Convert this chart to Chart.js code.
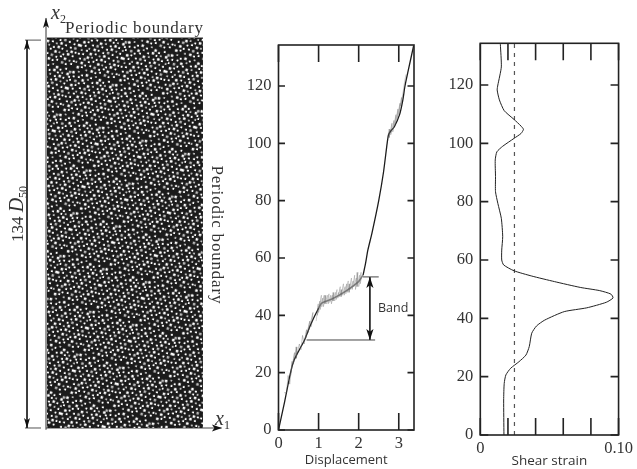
<!DOCTYPE html>
<html>
<head>
<meta charset="utf-8">
<style>
  body { margin: 0; background: #fff; }
  #page { position: relative; width: 637px; height: 469px; overflow: hidden; }
  canvas { position: absolute; left: 0; top: 0; }
  .lbl { position: absolute; white-space: nowrap; color: #333; font-family: "Liberation Serif", serif; font-size: 17px; line-height: 1; }
  .lbl i { font-size: 20px; }
  .lbl sub { font-size: 12px; line-height: 0; }
  .turn { transform-origin: center; }
</style>
<script src="https://cdn.jsdelivr.net/npm/chart.js@4"></script>
</head>
<body>
<div id="page">
  <canvas id="specimen" width="637" height="469"></canvas>
  <canvas id="dispChart" width="637" height="469"></canvas>
  <canvas id="strainChart" width="637" height="469"></canvas>
  <div class="lbl" style="left:65px;top:19px;letter-spacing:.8px">Periodic boundary</div>
  <div class="lbl turn" style="left:148px;top:226px;width:138px;letter-spacing:.8px;transform:rotate(90deg)">Periodic boundary</div>
  <div class="lbl turn" style="left:-16px;top:204px;width:64px;text-align:center;transform:rotate(-90deg)">134 <i>D</i><sub>50</sub></div>
  <div class="lbl" style="left:51px;top:2px"><i>x</i><sub>2</sub></div>
  <div class="lbl" style="left:215px;top:408px"><i>x</i><sub>1</sub></div>
  <div class="lbl" style="left:378px;top:302px;font-family:'Open Sans',sans-serif;font-size:12.5px">Band</div>
</div>
<script>
// Displacement profile (x = displacement, y = height), solid below and above the band
const lowerX = [0, 0.155, 0.3, 0.39, 0.52, 0.65, 0.78, 0.91, 1.0];
const lowerY = [0, 10, 20, 24.4, 28, 31.4, 36, 40, 42.5];
const bandX = [1.0, 1.07, 1.32, 1.65, 1.99, 2.11];
const bandY = [42.5, 44.2, 45.6, 48.2, 51.7, 54];
const upperX = [2.11, 2.17, 2.23, 2.33, 2.5, 2.62, 2.71, 2.745, 2.8, 2.89, 3.02, 3.1, 3.155, 3.23, 3.37];
const upperY = [54, 58, 62.8, 68.6, 80, 90, 100, 103, 104.3, 105.8, 110, 115, 120, 125, 134];

// Grey scatter round the profile
const fuzzLowX = [0.14, 0.2, 0.24, 0.28, 0.34, 0.3, 0.4, 0.37, 0.46, 0.44, 0.52, 0.56, 0.6, 0.64, 0.7, 0.68, 0.78, 0.74, 0.86, 0.82];
const fuzzLowY = [13, 13, 19, 16, 24, 19, 27, 23, 29, 25, 30, 28, 33, 30, 35, 32, 38, 34, 41, 36];
const fuzzBandX = [0.94, 0.99, 0.97, 1.03, 1.0, 1.07, 1.04, 1.1, 1.08, 1.14, 1.12, 1.18, 1.16, 1.22, 1.2, 1.26, 1.24, 1.3, 1.28, 1.34, 1.32, 1.38, 1.36, 1.42, 1.4, 1.46, 1.44, 1.5, 1.48, 1.54, 1.52, 1.58, 1.56, 1.62, 1.6, 1.66, 1.64, 1.7, 1.68, 1.74, 1.72, 1.78, 1.76, 1.82, 1.8, 1.86, 1.84, 1.9, 1.88, 1.94, 1.92, 1.98, 1.96, 2.02, 2.0, 2.06, 2.04, 2.08];
const fuzzBandY = [38, 44, 40, 45, 41, 47, 42, 46, 43, 47, 43, 47, 44, 47, 44, 47.5, 44, 47, 44.5, 47, 44, 48, 45, 48, 45, 49, 45.5, 48, 46, 50, 46.5, 49, 46.5, 51, 47, 50, 47, 51, 47.5, 52, 48, 51, 48, 53, 49, 52, 49, 54, 50, 53, 49, 55, 50, 54, 50, 55, 51, 54];
const fuzzHighX = [2.72, 2.78, 2.76, 2.83, 2.8, 2.88, 2.85, 2.93, 2.9, 2.98, 2.95, 3.03, 3.0, 3.07, 3.05, 3.11, 3.14, 3.18];
const fuzzHighY = [102, 105, 102, 107, 103, 108, 104, 110, 106, 112, 108, 114, 110, 116, 113, 118, 121, 124];

// Band markers
const bandTopX = [2.11, 2.5];
const bandTopY = [53.4, 53.4];
const bandBottomX = [0.7, 2.41];
const bandBottomY = [31.4, 31.4];
const bandArrowX = [2.28, 2.28];
const bandArrowY = [53.4, 31.4];

// Shear strain profile
const strainX = [0.0171, 0.0169, 0.0173, 0.0185, 0.022, 0.0279, 0.033, 0.0354, 0.0372, 0.0407, 0.0466, 0.0607, 0.077, 0.0911, 0.096, 0.0945, 0.0864, 0.0723, 0.0536, 0.0372, 0.0244, 0.0169, 0.0155, 0.0155, 0.0162, 0.0152, 0.0127, 0.011, 0.011, 0.0108, 0.012, 0.0162, 0.0244, 0.0295, 0.0312, 0.0295, 0.0244, 0.0173, 0.0138, 0.0122, 0.0127, 0.0152, 0.0145];
const strainY = [0, 12, 17.7, 20.6, 22.9, 25.1, 27.4, 30.3, 34.9, 37.4, 39.4, 42.3, 43.6, 45.5, 47, 48.3, 49.5, 50.6, 52.6, 54.5, 56.3, 58.3, 60, 63.4, 68, 74.3, 79.4, 83.4, 88.6, 94.3, 97.1, 99, 101.7, 103.4, 104.8, 105.9, 108.2, 111.2, 114.9, 118.3, 120, 126.2, 134];
const criticalStrainX = [0.0247, 0.0247];
const criticalStrainY = [0, 134.3];

// Tick labels
const dispTicks = [0, 1, 2, 3];
const heightTicks = [0, 20, 40, 60, 80, 100, 120];
const strainTicks = [0, 0.02, 0.04, 0.06, 0.08, 0.1];
const strainTickLabels = ['0', '', '', '', '', '0.10'];

// Specimen block and its axes, in D50 units
const blockX = [0, 53.6];
const blockY = [134, 134];
const axis1X = [-0.34, 60];
const axis1Y = [0, 0];
const axis2X = [-0.34, -0.34];
const axis2Y = [-0.6, 140.9];
const sizeArrowX = [-6.87, -6.87];
const sizeArrowY = [133.3, 0];
const sizeTopX = [-7.56, -2.06];
const sizeTopY = [133.3, 133.3];
const sizeBottomX = [-7.56, -2.06];
const sizeBottomY = [0, 0];

// Texture of the particle packing: a fill style only, the grains are not data
const voidsX = [2,8,13,18,24,29,34,39,45,50, 4,10,15,21,27,32,37,42,48,51, 1,7,12,18,23,29,35,40,45,50, 4,9,15,20,26,32,37,43,48, 1,7,12,18,23,29,34,40,46,51, 4,10,15,21,26,31,37,43,48, 2,7,13,18,24,29,34,40,45,50, 5,10,16,21,27,32,37,42,48, 2,8,13,19,24,30,35,40,46,51, 5,10,16,22,27,32,38,43,49];
const voidsY = [3,1,4,2,4,1,3,5,2,4, 8,7,9,7,9,7,9,8,7,10, 13,12,14,12,14,13,14,12,13,15, 18,17,19,18,18,19,17,18,19, 23,22,24,23,23,24,22,23,24,23, 28,27,29,28,29,27,28,29,28, 33,32,34,33,34,32,33,34,33,33, 38,37,39,37,38,38,39,37,38, 43,42,44,43,43,44,42,43,44,43, 48,47,49,48,49,47,48,49,47];
const clumpsX = [5, 17, 29, 9, 24, 33, 3, 20, 13, 28, 0, 34];
const clumpsY = [6, 3, 11, 19, 22, 28, 32, 34, 27, 17, 14, 4];

function points(xs, ys) {
    return xs.map((x, i) => ({ x: x, y: ys[i] }));
}

function makeGrainPattern() {
    var tile = document.createElement('canvas');
    tile.width = 52;
    tile.height = 52;
    var c = tile.getContext('2d');
    c.fillStyle = '#1b1b1b';
    c.fillRect(0, 0, 52, 52);
    c.filter = 'blur(0.3px)';
    voidsX.forEach((x, i) => {
        var s = i % 3 === 0 ? 2.9 : 2.2;
        c.fillStyle = i % 4 === 1 ? '#bbb' : '#fff';
        c.fillRect(x - 1.2, voidsY[i] - 1.2, s, s);
    });
    var pattern = c.createPattern(tile, 'repeat');
    // turned and shrunk so the rows of the tile do not line up with the block
    pattern.setTransform(new DOMMatrix().rotate(17).scale(0.86));
    return pattern;
}

function makeClumpPattern(color, w, h, angle) {
    var tile = document.createElement('canvas');
    tile.width = 37;
    tile.height = 37;
    var c = tile.getContext('2d');
    c.fillStyle = color;
    clumpsX.forEach((x, i) => c.fillRect(x, clumpsY[i], w, h));
    var pattern = c.createPattern(tile, 'repeat');
    pattern.setTransform(new DOMMatrix().rotate(angle));
    return pattern;
}

function line(data, color, width, extra) {
    return Object.assign({ data: data, borderColor: color, borderWidth: width, showLine: true, pointRadius: 0, tension: 0, fill: false }, extra || {});
}

// Filled arrow heads, placed through the chart's scales
function arrowHeads(heads) {
    return {
        id: 'arrowHeads',
        afterDatasetsDraw(chart) {
            var c = chart.ctx;
            heads.forEach(h => {
                var px = chart.scales.x.getPixelForValue(h.x);
                var py = chart.scales.y.getPixelForValue(h.y);
                c.save();
                c.translate(px, py);
                c.rotate(h.angle * Math.PI / 180);
                c.fillStyle = '#111';
                c.beginPath();
                c.moveTo(0, 0);
                c.lineTo(-h.w, h.l);
                c.lineTo(0, h.l * 0.75);
                c.lineTo(h.w, h.l);
                c.closePath();
                c.fill();
                c.restore();
            });
        }
    };
}

// Ticks point into the frame, on all four sides
function innerTicks(xValues, xLen, yLen) {
    return {
        id: 'innerTicks',
        afterDraw(chart) {
            var c = chart.ctx;
            var a = chart.chartArea;
            c.save();
            c.strokeStyle = '#222';
            c.lineWidth = 1.6;
            c.beginPath();
            xValues.forEach(v => {
                var px = chart.scales.x.getPixelForValue(v);
                c.moveTo(px, a.bottom);
                c.lineTo(px, a.bottom - xLen);
                c.moveTo(px, a.top);
                c.lineTo(px, a.top + xLen);
            });
            heightTicks.forEach(v => {
                var py = chart.scales.y.getPixelForValue(v);
                c.moveTo(a.left, py);
                c.lineTo(a.left + yLen, py);
                c.moveTo(a.right, py);
                c.lineTo(a.right - yLen, py);
            });
            c.stroke();
            c.strokeRect(a.left, a.top, a.right - a.left, a.bottom - a.top);
            c.restore();
        }
    };
}

function profileOptions(frame, xMax, xTicks, xLabels, title, titleSize, titleHeight) {
    return {
        responsive: false,
        animation: false,
        layout: { padding: { left: frame.left - 40, right: 637 - frame.right, top: frame.top, bottom: 469 - frame.bottom - titleHeight } },
        plugins: { legend: { display: false }, tooltip: { enabled: false } },
        scales: {
            x: {
                type: 'linear', min: 0, max: xMax,
                grid: { display: false, drawTicks: false },
                border: { display: false },
                afterFit: s => { s.height = titleHeight; },
                afterBuildTicks: s => { s.ticks = xTicks.map(v => ({ value: v })); },
                ticks: {
                    autoSkip: false, maxRotation: 0, padding: 4, color: '#333',
                    font: { family: '"Liberation Serif", serif', size: 16.5 },
                    callback: (v, i) => xLabels ? xLabels[i] : String(v)
                },
                title: { display: true, text: title, color: '#333', padding: 0, font: { family: '"Open Sans", sans-serif', size: titleSize } }
            },
            y: {
                type: 'linear', min: 0, max: 134.3,
                grid: { display: false, drawTicks: false },
                border: { display: false },
                afterFit: s => { s.width = 40; },
                afterBuildTicks: s => { s.ticks = heightTicks.map(v => ({ value: v })); },
                ticks: {
                    autoSkip: false, padding: 7, color: '#333',
                    font: { family: '"Liberation Serif", serif', size: 16.5 }
                }
            }
        }
    };
}

// Specimen
new Chart(document.getElementById('specimen'), {
    type: 'scatter',
    data: {
        datasets: [
            line(points(blockX, blockY), '#1b1b1b', 1, { fill: 'origin', backgroundColor: makeGrainPattern() }),
            line(points(blockX, blockY), 'rgba(0,0,0,0)', 0, { fill: 'origin', backgroundColor: makeClumpPattern('#1b1b1b', 3, 2, -31) }),
            line(points(blockX, blockY), 'rgba(0,0,0,0)', 0, { fill: 'origin', backgroundColor: makeClumpPattern('#e8e8e8', 2, 2, 53) }),
            line(points(axis1X, axis1Y), '#444', 1.2),
            line(points(axis2X, axis2Y), '#333', 1),
            line(points(sizeArrowX, sizeArrowY), '#222', 1),
            line(points(sizeTopX, sizeTopY), '#555', 1),
            line(points(sizeBottomX, sizeBottomY), '#555', 1)
        ]
    },
    options: {
        responsive: false,
        animation: false,
        layout: { padding: 0 },
        plugins: { legend: { display: false }, tooltip: { enabled: false } },
        scales: {
            x: { type: 'linear', display: false, min: -16.15, max: 202.75 },
            y: { type: 'linear', display: false, min: -14.09, max: 147.08 }
        }
    },
    plugins: [arrowHeads([
        { x: 60.1, y: 0, angle: 90, w: 3.5, l: 10 },
        { x: -0.34, y: 140.9, angle: 0, w: 3, l: 10 },
        { x: -6.87, y: 133.3, angle: 0, w: 3, l: 10 },
        { x: -6.87, y: 0, angle: 180, w: 3, l: 10 }
    ])]
});

// Displacement
new Chart(document.getElementById('dispChart'), {
    type: 'scatter',
    data: {
        datasets: [
            line(points(fuzzLowX, fuzzLowY), 'rgba(90,90,90,0.5)', 0.7),
            line(points(fuzzBandX, fuzzBandY), 'rgba(90,90,90,0.4)', 0.7),
            line(points(fuzzHighX, fuzzHighY), 'rgba(90,90,90,0.45)', 0.7),
            line(points(bandX, bandY), 'rgba(90,90,90,0.7)', 1.6, { tension: 0.2 }),
            line(points(lowerX, lowerY), '#1c1c1c', 1.3, { tension: 0.2 }),
            line(points(upperX, upperY), '#1c1c1c', 1.3, { tension: 0.2 }),
            line(points(bandTopX, bandTopY), '#444', 1),
            line(points(bandBottomX, bandBottomY), '#444', 1),
            line(points(bandArrowX, bandArrowY), '#111', 1.6)
        ]
    },
    options: profileOptions({ left: 278.5, right: 414, top: 45, bottom: 430 }, 3.38, dispTicks, null, 'Displacement', 13, 38),
    plugins: [innerTicks(dispTicks, 17, 6.5), arrowHeads([
        { x: 2.28, y: 53.4, angle: 0, w: 3.6, l: 11 },
        { x: 2.28, y: 31.4, angle: 180, w: 3.6, l: 11 }
    ])]
});

// Shear strain
new Chart(document.getElementById('strainChart'), {
    type: 'scatter',
    data: {
        datasets: [
            line(points(strainX, strainY), '#222', 1, { tension: 0.2 }),
            line(points(criticalStrainX, criticalStrainY), '#555', 1.2, { borderDash: [4, 5] })
        ]
    },
    options: profileOptions({ left: 480.3, right: 622.7, top: 43.3, bottom: 435 }, 0.1, strainTicks, strainTickLabels, 'Shear strain', 13.5, 34),
    plugins: [innerTicks(strainTicks, 17, 8)]
});
</script>
</body>
</html>
